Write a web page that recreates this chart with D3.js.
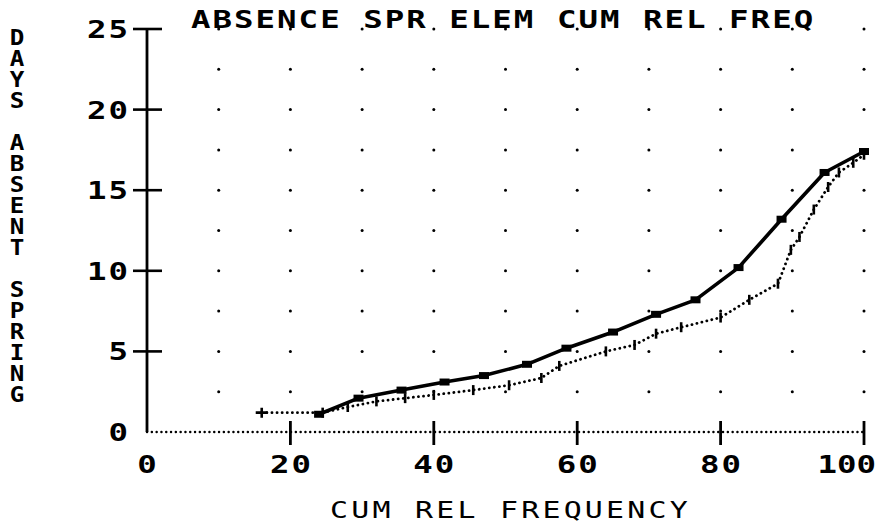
<!DOCTYPE html>
<html>
<head>
<meta charset="utf-8">
<script src="https://cdn.jsdelivr.net/npm/d3@7"></script>
<style>
  body { margin: 0; background: #fff; }
  svg { display: block; }
</style>
</head>
<body>
<svg></svg>
<script>
const width = 877;
const height = 527;

// solid series (square markers)
const solidX = [24, 29.5, 35.5, 41.5, 47, 53, 58.5, 65, 71, 76.5, 82.5, 88.5, 94.5, 100];
const solidY = [1.1, 2.1, 2.6, 3.1, 3.5, 4.2, 5.2, 6.2, 7.3, 8.2, 10.2, 13.2, 16.1, 17.4];

// dotted series (tick markers)
const dottedX = [16, 24.5, 28, 32, 36, 40, 45.5, 50.5, 55, 57.5, 64, 68, 71, 74.5, 80, 84, 88, 89.8, 91, 93, 95, 96.5, 98.5, 100];
const dottedY = [1.2, 1.2, 1.55, 1.9, 2.1, 2.3, 2.6, 2.9, 3.35, 4.1, 5.0, 5.4, 6.1, 6.5, 7.1, 8.2, 9.2, 11.3, 12.1, 13.8, 15.2, 16.1, 16.7, 17.2];

const xTicks = [0, 20, 40, 60, 80, 100];
const yTicks = [0, 5, 10, 15, 20, 25];
const gridX = d3.range(10, 101, 10);
const gridY = d3.range(2.5, 25.1, 2.5);

const titleText = 'ABSENCE SPR ELEM CUM REL FREQ';
const xTitle = 'CUM REL FREQUENCY';
const yTitle = 'DAYS ABSENT SPRING';

const font = '"DejaVu Sans Mono", monospace';

const svg = d3.select('svg')
  .attr('width', width)
  .attr('height', height);

const x = d3.scaleLinear().domain([0, 100]).range([147, 864]);
const y = d3.scaleLinear().domain([0, 25]).range([432, 29]);

// stretched text helper, the old plotter font is wide
function label(txt, px, py, opts) {
  const o = Object.assign({ size: 24, sx: 1.35, ls: 1.5, anchor: 'start', weight: 'bold' }, opts);
  const g = svg.append('g').attr('transform', `translate(${px},${py}) scale(${o.sx},1)`);
  return g.append('text')
    .attr('text-anchor', o.anchor)
    .attr('font-family', font)
    .attr('font-size', o.size)
    .attr('font-weight', o.weight)
    .attr('letter-spacing', o.ls)
    .text(txt);
}

// grid dots
const cells = [];
gridX.forEach(gx => gridY.forEach(gy => cells.push([gx, gy])));
svg.append('g')
  .selectAll('circle')
  .data(cells)
  .join('circle')
    .attr('cx', d => x(d[0]))
    .attr('cy', d => y(d[1]))
    .attr('r', 1.5)
    .attr('fill', '#000');

// x axis: dotted baseline
svg.append('line')
  .attr('x1', x(0)).attr('x2', x(100))
  .attr('y1', y(0)).attr('y2', y(0))
  .attr('stroke', '#000')
  .attr('stroke-width', 2.4)
  .attr('stroke-linecap', 'round')
  .attr('stroke-dasharray', '0.1,4.7');

svg.append('g')
  .selectAll('line')
  .data(xTicks.filter(d => d > 0))
  .join('line')
    .attr('x1', d => x(d)).attr('x2', d => x(d))
    .attr('y1', y(0) - 11).attr('y2', y(0) + 13)
    .attr('stroke', '#000')
    .attr('stroke-width', 2.8);

xTicks.forEach((t, i) => {
  // last label runs into the right edge, keep it inside
  if (i === xTicks.length - 1) label(String(t), width - 1, 473, { anchor: 'end', ls: 0 });
  else label(String(t), x(t) + 1, 473, { anchor: 'middle' });
});

// y axis
svg.append('line')
  .attr('x1', x(0)).attr('x2', x(0))
  .attr('y1', y(25)).attr('y2', y(0))
  .attr('stroke', '#000')
  .attr('stroke-width', 2.8);

svg.append('g')
  .selectAll('line')
  .data(yTicks.filter(d => d > 0))
  .join('line')
    .attr('x1', x(0) - 14).attr('x2', x(0) + 15)
    .attr('y1', d => y(d)).attr('y2', d => y(d))
    .attr('stroke', '#000')
    .attr('stroke-width', 2.6);

yTicks.forEach(t => {
  label(String(t), 130, y(t) + 9, { anchor: 'end' });
});

// titles
label(titleText, 191, 28, { size: 24, sx: 1.35, ls: 1.5 });
label(xTitle, 330, 518, { size: 23, sx: 1.3, ls: 2.5, weight: 'normal' });

// stacked vertical y title, one text with a tspan per letter
const yt = label('', 17, 45, { size: 22, sx: 1.1, ls: 0, anchor: 'middle' });
yt.selectAll('tspan')
  .data(yTitle.split(''))
  .join('tspan')
    .attr('x', 0)
    .attr('dy', (d, i) => i === 0 ? 0 : 21)
    .text(d => d === ' ' ? '\u00a0' : d);

// dotted series
const line = d3.line().x(d => x(d[0])).y(d => y(d[1]));
const dotted = dottedX.map((v, i) => [v, dottedY[i]]);
svg.append('path')
  .attr('d', line(dotted))
  .attr('fill', 'none')
  .attr('stroke', '#000')
  .attr('stroke-width', 2.8)
  .attr('stroke-linecap', 'round')
  .attr('stroke-dasharray', '0.1,5');

svg.append('g')
  .selectAll('path')
  .data(dotted)
  .join('path')
    .attr('d', (d, i) => i === 0 ? 'M-6,0H6M0,-5V5' : 'M0,-5V5')
    .attr('transform', d => `translate(${x(d[0])},${y(d[1])})`)
    .attr('stroke', '#000')
    .attr('stroke-width', 2.6);

// solid series
const solid = solidX.map((v, i) => [v, solidY[i]]);
svg.append('path')
  .attr('d', line(solid))
  .attr('fill', 'none')
  .attr('stroke', '#000')
  .attr('stroke-width', 3.6)
  .attr('stroke-linejoin', 'round');

svg.append('g')
  .selectAll('rect')
  .data(solid)
  .join('rect')
    .attr('x', d => x(d[0]) - 5)
    .attr('y', d => y(d[1]) - 3.5)
    .attr('width', 10)
    .attr('height', 7)
    .attr('fill', '#000');
</script>
</body>
</html>
